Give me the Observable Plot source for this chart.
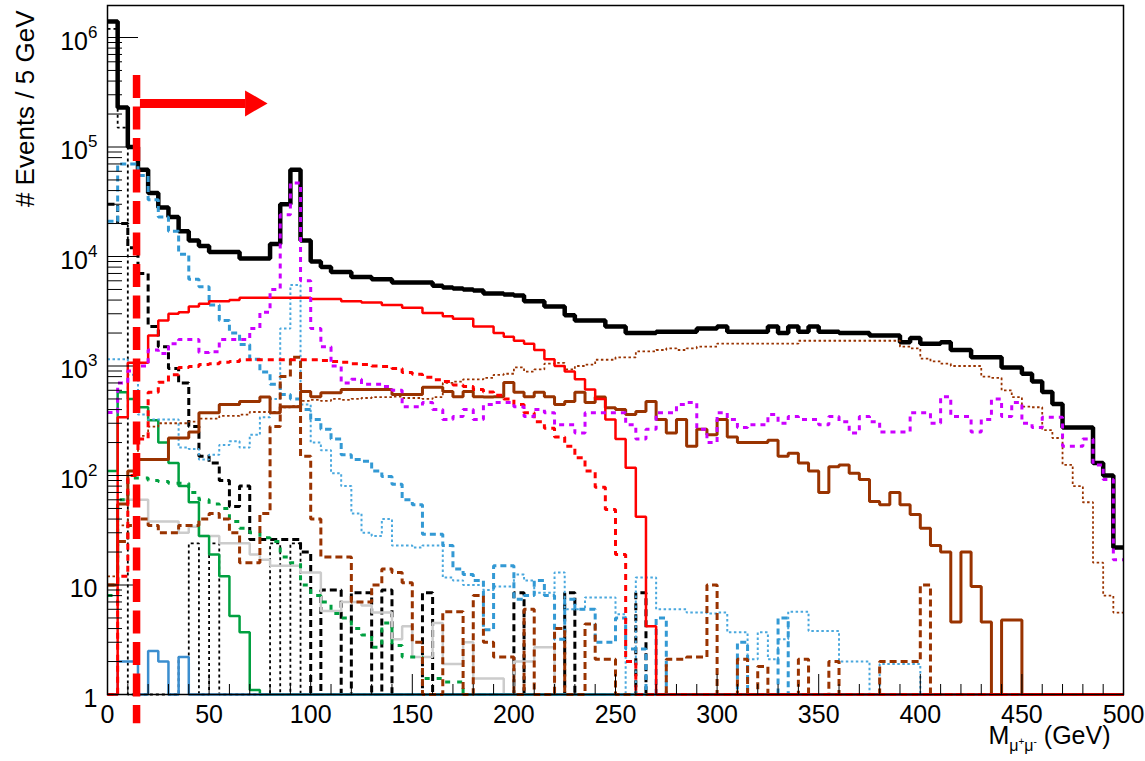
<!DOCTYPE html>
<html><head><meta charset="utf-8">
<script src="https://cdn.jsdelivr.net/npm/d3@7"></script>
<script src="https://cdn.jsdelivr.net/npm/@observablehq/plot@0.6"></script>
<style>html,body{margin:0;padding:0;background:#fff;} svg{display:block;}</style>
</head><body><div id="chart"></div>
<script>
// ---------- axis definitions ----------
const binWidth = 5; // GeV
const xMajor = [0, 50, 100, 150, 200, 250, 300, 350, 400, 450, 500];
const xMinor = [10, 20, 30, 40, 60, 70, 80, 90, 110, 120, 130, 140, 160, 170, 180, 190, 210, 220, 230, 240,
  260, 270, 280, 290, 310, 320, 330, 340, 360, 370, 380, 390, 410, 420, 430, 440, 460, 470, 480, 490];
const yMajor = [1, 10, 100, 1e3, 1e4, 1e5, 1e6];
const yMajorLabels = ["1", "10", "10^2", "10^3", "10^4", "10^5", "10^6"];
const yMinor = [2,3,4,5,6,7,8,9, 20,30,40,50,60,70,80,90, 200,300,400,500,600,700,800,900,
  2e3,3e3,4e3,5e3,6e3,7e3,8e3,9e3, 2e4,3e4,4e4,5e4,6e4,7e4,8e4,9e4, 2e5,3e5,4e5,5e5,6e5,7e5,8e5,9e5];
const xTitle = "M_{μ+μ-} (GeV)";
const yTitle = "# Events / 5 GeV";

// ---------- histogram contents (events per 5 GeV bin, 0–500 GeV) ----------
const total = [
 1.4e6, 2.3e5, 1.0e5, 6.2e4, 3.8e4, 2.8e4, 2.3e4, 1.7e4, 1.4e4, 1.25e4,
 1.1e4, 1.1e4, 1.1e4, 9600, 9600, 9600, 1.3e4, 3.0e4, 6.2e4, 1.4e4,
 9000, 8000, 7200, 7200, 6500, 6500, 6200, 6200, 5800, 5800,
 5800, 5800, 5400, 5200, 5100, 5000, 4900, 4600, 4600, 4500,
 4400, 3900, 3900, 3500, 3500, 2900, 2600, 2600, 2600, 2300,
 2300, 2000, 2000, 2000, 2050, 2050, 2050, 2050, 2200, 2200,
 2300, 2050, 2050, 2050, 2050, 2300, 2000, 2300, 2050, 2300,
 2050, 2050, 2000, 2000, 2000, 1900, 1900, 1900, 1650, 1800,
 1600, 1600, 1650, 1400, 1400, 1200, 1200, 1200, 970, 970,
 850, 720, 580, 450, 275, 275, 275, 130, 100, 22];
const redSolid = [
 0, 340, 1070, 1070, 1900, 2600, 3000, 3100, 3500, 3700,
 3900, 3900, 4000, 4200, 4200, 4200, 4200, 4200, 4200, 4200,
 4100, 4100, 4100, 3900, 3900, 3800, 3800, 3600, 3600, 3400,
 3400, 3050, 3050, 2850, 2700, 2700, 2300, 2300, 2000, 1850,
 1700, 1600, 1400, 1150, 1000, 890, 755, 610, 500, 325,
 215, 118, 42, 4.2, 0, 0, 0, 0, 0, 0,
 0, 0, 0, 0, 0, 0, 0, 0, 0, 0,
 0, 0, 0, 0, 0, 0, 0, 0, 0, 0,
 0, 0, 0, 0, 0, 0, 0, 0, 0, 0,
 0, 0, 0, 0, 0, 0, 0, 0, 0, 0];
const redDashed = [
 0, 12, 100, 215, 575, 710, 830, 970, 990, 1030,
 1050, 1080, 1100, 1140, 1140, 1140, 1140, 1140, 1140, 1140,
 1140, 1120, 1100, 1080, 1050, 1030, 1000, 990, 950, 870,
 840, 790, 750, 720, 670, 650, 610, 580, 540, 500,
 445, 375, 310, 270, 225, 185, 145, 110, 78, 49,
 19, 2, 0, 0, 0, 0, 0, 0, 0, 0,
 0, 0, 0, 0, 0, 0, 0, 0, 0, 0,
 0, 0, 0, 0, 0, 0, 0, 0, 0, 0,
 0, 0, 0, 0, 0, 0, 0, 0, 0, 0,
 0, 0, 0, 0, 0, 0, 0, 0, 0, 0];
const magentaDashed = [
 376, 700, 900, 1000, 1400, 1300, 1600, 1750, 1750, 1330,
 1350, 1750, 1750, 1750, 2200, 3100, 5000, 24000, 47000, 6000,
 2200, 1500, 1000, 700, 755, 680, 680, 650, 600, 425,
 425, 465, 400, 325, 345, 400, 325, 445, 465, 465,
 425, 345, 400, 375, 290, 290, 245, 375, 375, 375,
 375, 290, 215, 265, 375, 375, 445, 465, 265, 200,
 375, 325, 275, 290, 290, 360, 300, 345, 325, 325,
 290, 345, 310, 245, 345, 310, 250, 250, 250, 375,
 375, 300, 525, 345, 345, 250, 325, 500, 345, 465,
 300, 275, 340, 340, 185, 185, 215, 125, 92, 17];
const brownSolid = [
 10, 55, 110, 140, 140, 140, 220, 220, 250, 375,
 375, 445, 445, 475, 475, 520, 375, 425, 425, 585,
 525, 570, 570, 610, 610, 610, 610, 610, 550, 550,
 550, 640, 640, 585, 525, 585, 525, 520, 525, 705,
 575, 525, 575, 525, 445, 475, 575, 465, 520, 415,
 400, 360, 385, 475, 325, 245, 325, 185, 265, 235,
 325, 225, 200, 200, 200, 210, 150, 160, 130, 110,
 70, 120, 125, 105, 92, 58, 54, 70, 54, 44,
 33, 23, 20, 4.6, 20, 9.7, 4.6, 0, 4.8, 4.8,
 0, 0, 0, 0, 0, 0, 0, 0, 0, 0];
const brownDotted = [
 12, 35, 110, 230, 280, 300, 300, 300, 310, 330,
 330, 350, 350, 360, 380, 380, 380, 420, 430, 480,
 490, 480, 500, 490, 500, 510, 520, 520, 525, 510,
 510, 500, 520, 700, 720, 755, 755, 780, 830, 850,
 970, 890, 930, 1050, 1070, 930, 1000, 1030, 1140, 1140,
 1200, 1200, 1360, 1360, 1400, 1450, 1400, 1450, 1500, 1500,
 1600, 1600, 1600, 1600, 1600, 1600, 1600, 1600, 1700, 1700,
 1700, 1700, 1700, 1700, 1700, 1700, 1700, 1700, 1500, 1450,
 1170, 1100, 1050, 1000, 1000, 1000, 800, 780, 600, 520,
 425, 420, 260, 220, 125, 80, 57, 16, 8, 5.6];
const brownDashed = [
 10, 25, 35, 40, 35, 30, 30, 35, 35, 40,
 45, 40, 30, 16, 16, 45, 280, 800, 1200, 150,
 40, 18, 18, 18, 7, 7, 10, 14, 13, 10.5,
 3, 0, 0, 5.7, 5.7, 0, 8, 3, 2.2, 2.2,
 0, 6, 0, 0, 4, 0, 0, 4.4, 2.1, 2.1,
 0, 0, 0, 0, 0, 2.1, 2.1, 2.2, 2.2, 10,
 0, 0, 2.1, 0, 1.8, 0, 0, 0, 2.1, 0,
 0, 2, 0, 0, 0, 0, 2, 2, 2, 2,
 10, 0, 0, 0, 0, 0, 0, 0, 0, 0,
 0, 0, 0, 0, 0, 0, 0, 0, 0, 0];
const blueDashed = [
 21000, 70000, 70000, 55000, 33000, 23000, 17000, 10500, 6200, 5300,
 3600, 2600, 2000, 1570, 1150, 880, 680, 550, 500, 400,
 325, 265, 215, 155, 140, 135, 110, 98, 83, 60,
 54, 29, 29, 23, 14, 12.5, 11, 3.9, 15, 15,
 7.4, 8, 11, 8, 3.2, 7.4, 6, 6, 3, 3,
 5, 2.6, 2.6, 0, 5, 0, 0, 0, 0, 0,
 0, 0, 3, 0, 0, 0, 5, 0, 0, 0,
 0, 0, 0, 0, 0, 0, 0, 0, 0, 0,
 0, 0, 0, 0, 0, 0, 0, 0, 0, 0,
 0, 0, 0, 0, 0, 0, 0, 0, 0, 0];
const blueDotted = [
 1150, 1150, 830, 360, 325, 325, 325, 180, 175, 140,
 155, 190, 205, 180, 235, 340, 500, 2200, 5500, 445,
 200, 170, 105, 80, 45, 30, 28, 40, 23, 23,
 22, 23, 23, 11.7, 11, 10, 10, 9, 9.7, 9.7,
 12.5, 11, 8.5, 8.5, 13, 6, 6, 7.7, 7.7, 7.7,
 5.4, 0, 11.7, 11.7, 6, 6, 6, 5.6, 5.6, 5.5,
 5.6, 3.7, 3.7, 2.1, 3.7, 2.1, 3.2, 5.7, 5.7, 3.8,
 3.8, 3.8, 2, 2, 2, 0, 1.9, 1.9, 1.9, 1.9,
 0, 0, 0, 0, 0, 0, 0, 0, 0, 0,
 0, 0, 0, 0, 0, 0, 0, 0, 0, 0];
const blackDashed = [
 30000, 20000, 12000, 7000, 2300, 1500, 950, 700, 280, 150,
 130, 90, 52, 80, 26, 26, 26, 26, 26, 20,
 0, 9, 9, 0, 8.5, 8.5, 0, 9, 0, 0,
 0, 8.5, 0, 0, 0, 0, 0, 0, 0, 0,
 8.5, 0, 0, 0, 0, 8.5, 0, 0, 0, 0,
 0, 0, 8.5, 0, 0, 0, 0, 0, 0, 0,
 0, 0, 0, 0, 0, 0, 0, 0, 0, 0,
 0, 0, 0, 0, 0, 0, 0, 0, 0, 0,
 0, 0, 0, 0, 0, 0, 0, 0, 0, 0,
 0, 0, 0, 0, 0, 0, 0, 0, 0, 0];
const blackDotted = [
 1.2e6, 1.5e5, 0, 0, 0, 0, 0, 2.2, 24, 0,
 24, 0, 0, 0, 0, 0, 24, 0, 24, 0,
 0, 0, 0, 0, 0, 0, 0, 0, 0, 0,
 0, 0, 0, 0, 0, 0, 0, 0, 0, 0,
 0, 0, 0, 0, 0, 0, 0, 0, 0, 0,
 0, 0, 0, 0, 0, 0, 0, 0, 0, 0,
 0, 0, 0, 0, 0, 0, 0, 0, 0, 0,
 0, 0, 0, 0, 0, 0, 0, 0, 0, 0,
 0, 0, 0, 0, 0, 0, 0, 0, 0, 0,
 0, 0, 0, 0, 0, 0, 0, 0, 0, 0];
const greenSolid = [
 110, 575, 500, 420, 320, 200, 130, 80, 57, 28,
 19, 12, 5.2, 3.7, 1.1, 0, 0, 0, 0, 0,
 0, 0, 0, 0, 0, 0, 0, 0, 0, 0,
 0, 0, 0, 0, 0, 0, 0, 0, 0, 0,
 0, 0, 0, 0, 0, 0, 0, 0, 0, 0,
 0, 0, 0, 0, 0, 0, 0, 0, 0, 0,
 0, 0, 0, 0, 0, 0, 0, 0, 0, 0,
 0, 0, 0, 0, 0, 0, 0, 0, 0, 0,
 0, 0, 0, 0, 0, 0, 0, 0, 0, 0,
 0, 0, 0, 0, 0, 0, 0, 0, 0, 0];
const greenDashed = [
 8, 60, 95, 95, 90, 88, 85, 85, 70, 60,
 55, 50, 38, 33, 30, 27, 25, 18, 16, 10,
 8, 7, 5.5, 5, 4, 3.5, 2.7, 4.5, 2.8, 2.2,
 2.2, 1.4, 1.4, 1.3, 1.3, 0, 0, 0, 0, 0,
 0, 0, 0, 0, 0, 0, 0, 0, 0, 0,
 0, 0, 0, 0, 0, 0, 0, 0, 0, 0,
 0, 0, 0, 0, 0, 0, 0, 0, 0, 0,
 0, 0, 0, 0, 0, 0, 0, 0, 0, 0,
 0, 0, 0, 0, 0, 0, 0, 0, 0, 0,
 0, 0, 0, 0, 0, 0, 0, 0, 0, 0];
const greySolid = [
 10, 60, 60, 60, 38, 38, 38, 30, 34, 28,
 28, 24, 24, 24, 19, 17, 15, 15, 15, 13,
 13, 5.8, 5.8, 7, 7, 6.5, 5.6, 5.6, 3.2, 4.2,
 2.2, 2.2, 4.5, 1.9, 1.9, 3, 1.4, 1.4, 1.4, 0,
 2, 2, 2.7, 2.7, 0, 0, 0, 0, 0, 0,
 0, 0, 0, 0, 0, 0, 0, 0, 0, 0,
 0, 0, 0, 0, 0, 0, 0, 0, 0, 0,
 0, 0, 0, 0, 0, 0, 0, 0, 0, 0,
 0, 0, 0, 0, 0, 0, 0, 0, 0, 0,
 0, 0, 0, 0, 0, 0, 0, 0, 0, 0];
const blueSolid = [
 0, 2, 2, 0, 2.5, 2, 0, 2.2, 0, 0,
 0, 0, 0, 0, 0, 0, 0, 0, 0, 0,
 0, 0, 0, 0, 0, 0, 0, 0, 0, 0,
 0, 0, 0, 0, 0, 0, 0, 0, 0, 0,
 0, 0, 0, 0, 0, 0, 0, 0, 0, 0,
 0, 0, 0, 0, 0, 0, 0, 0, 0, 0,
 0, 0, 0, 0, 0, 0, 0, 0, 0, 0,
 0, 0, 0, 0, 0, 0, 0, 0, 0, 0,
 0, 0, 0, 0, 0, 0, 0, 0, 0, 0,
 0, 0, 0, 0, 0, 0, 0, 0, 0, 0];

// ---------- annotation (cut and arrow), in data units ----------
const cutMass = 14.3, cutTop = 4.5e5, cutBottom = 0.54;
const arrowY = 2.5e5, arrowFrom = 16.2, arrowTo = 68, arrowHeadX = 71.4;

// ---------- styles ----------
const RED = "#ff0000", MAG = "#cc00ff", BROWN = "#993300", BLUE = "#3399d4", BLUE2 = "#4aa8de", BLUE3 = "#3b8ecf", GREEN = "#00a040", GREY = "#cccccc";
const series = [
  {name: "total", values: total, stroke: "#000", width: 4.5, dash: null},
  {name: "blackDotted", values: blackDotted, stroke: "#000", width: 1.8, dash: "3 3"},
  {name: "blackDashed", values: blackDashed, stroke: "#000", width: 3, dash: "7 4"},
  {name: "greySolid", values: greySolid, stroke: GREY, width: 2.5, dash: null},
  {name: "greenDashed", values: greenDashed, stroke: GREEN, width: 3, dash: "5 7"},
  {name: "greenSolid", values: greenSolid, stroke: GREEN, width: 2.5, dash: null},
  {name: "blueSolid", values: blueSolid, stroke: BLUE3, width: 2.5, dash: null},
  {name: "blueDotted", values: blueDotted, stroke: BLUE2, width: 2, dash: "2.5 2.5"},
  {name: "blueDashed", values: blueDashed, stroke: BLUE, width: 3, dash: "6 4"},
  {name: "brownDotted", values: brownDotted, stroke: BROWN, width: 1.8, dash: "2.5 2.5"},
  {name: "brownDashed", values: brownDashed, stroke: BROWN, width: 3, dash: "7 4"},
  {name: "brownSolid", values: brownSolid, stroke: BROWN, width: 3, dash: null},
  {name: "redDashed", values: redDashed, stroke: RED, width: 3, dash: "6 5"},
  {name: "redSolid", values: redSolid, stroke: RED, width: 2.5, dash: null},
  {name: "magentaDashed", values: magentaDashed, stroke: MAG, width: 3, dash: "5 5"}
];

// ---------- layout ----------
const W = 1145, H = 761, mL = 107, mR = 22, mT = 5, mB = 67;
const plotW = W - mL - mR, plotH = H - mT - mB;
const yMin = 1, yMax = 1.96e6;

// step outline of a histogram; empty bins are drawn on the frame floor (as ROOT does on log axes)
function stepRows(values) {
  const rows = [];
  values.forEach((v, i) => {
    const y = Math.max(v, yMin);
    rows.push({x: i * binWidth, y}, {x: (i + 1) * binWidth, y});
  });
  return rows;
}

const histMarks = series.map(s => Plot.line(stepRows(s.values), {
  x: "x", y: "y", stroke: s.stroke, strokeWidth: s.width,
  strokeDasharray: s.dash ?? undefined, strokeLinejoin: "miter", strokeLinecap: "butt"
}));

const fmtY = d => yMajorLabels[yMajor.indexOf(d)];

const svg = Plot.plot({
  width: W, height: H,
  marginLeft: mL, marginRight: mR, marginTop: mT, marginBottom: mB,
  style: {fontFamily: "'Liberation Sans', Arial, Helvetica, sans-serif", fontSize: "25px", background: "#fff", color: "#000", overflow: "visible"},
  x: {domain: [0, 500]},
  y: {type: "log", domain: [yMin, yMax]},
  marks: [
    ...histMarks,
    // ticks drawn inside the frame
    Plot.ruleX(xMajor, {stroke: "#000", strokeWidth: 1, insetTop: plotH - 20}),
    Plot.ruleX(xMinor, {stroke: "#000", strokeWidth: 1, insetTop: plotH - 10}),
    Plot.ruleY(yMajor, {stroke: "#000", strokeWidth: 1, insetRight: plotW - 31}),
    Plot.ruleY(yMinor, {stroke: "#000", strokeWidth: 1, insetRight: plotW - 15}),
    Plot.frame({stroke: "#000", strokeWidth: 1.5}),
    Plot.axisX({ticks: xMajor, tickSize: 0, tickPadding: 11, label: null, fontSize: 25, tickFormat: d => String(d)}),
    Plot.axisY({ticks: yMajor, tickSize: 0, tickPadding: 10, label: null, fontSize: 25, tickFormat: fmtY, dy: 4}),
    Plot.text([yTitle], {frameAnchor: "top-left", text: d => d, rotate: -90, textAnchor: "end", lineAnchor: "bottom", dx: -74, dy: 5, fontSize: 26}),
    Plot.text([xTitle], {frameAnchor: "bottom-right", text: d => d, textAnchor: "end", lineAnchor: "bottom", dx: -13, dy: 49, fontSize: 25}),
    // cut line and arrow
    Plot.ruleX([cutMass], {y1: cutTop, y2: cutBottom, stroke: RED, strokeWidth: 7.5, strokeDasharray: "23 8.5"}),
    Plot.ruleY([arrowY], {x1: arrowFrom, x2: arrowTo, stroke: RED, strokeWidth: 9}),
    Plot.dot([arrowY], {x: arrowHeadX, y: d => d, symbol: "triangle", rotate: 90, r: 9.65, fill: RED, stroke: "none"})
  ]
});
document.getElementById("chart").appendChild(svg);

// superscript exponents on the y tick labels, sub/superscripts in the x title
d3.select(svg).selectAll("text").each(function () {
  const s = this.textContent;
  const m = /^10\^(\d)$/.exec(s);
  if (m) {
    const t = d3.select(this);
    t.text("10");
    t.append("tspan").attr("dy", -12).attr("font-size", "17px").text(m[1]);
  } else if (s === xTitle) {
    const t = d3.select(this);
    t.text("M");
    t.append("tspan").attr("dy", 7).attr("font-size", "16px").text("μ");
    t.append("tspan").attr("dy", -6).attr("font-size", "10px").text("+");
    t.append("tspan").attr("dy", 6).attr("font-size", "16px").text("μ");
    t.append("tspan").attr("dy", -6).attr("font-size", "10px").text("-");
    t.append("tspan").attr("dy", -1).attr("font-size", "25px").text(" (GeV)");
  }
});
</script></body></html>
